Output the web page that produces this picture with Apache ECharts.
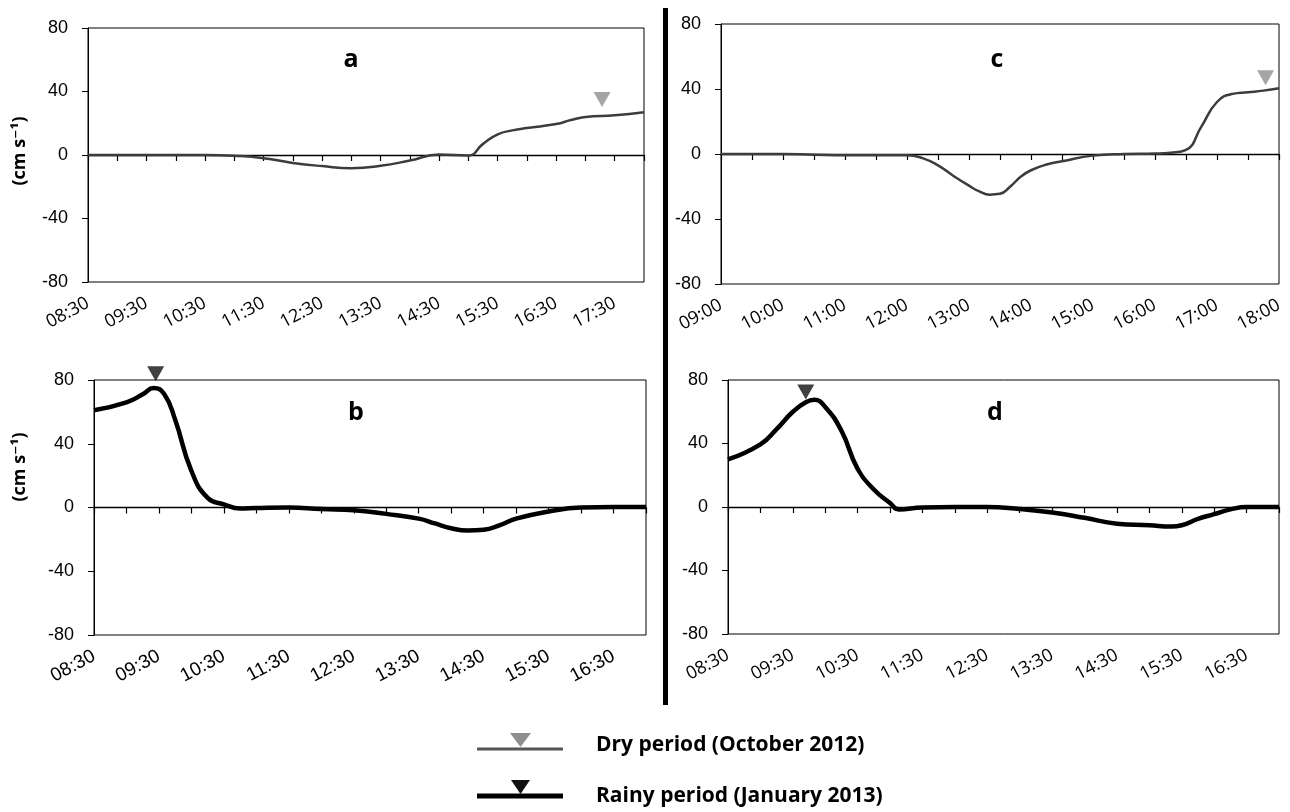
<!DOCTYPE html>
<html>
<head>
<meta charset="utf-8">
<script src="https://cdn.jsdelivr.net/npm/echarts@6/dist/echarts.min.js"></script>
<style>
  html, body { margin: 0; padding: 0; background: #fff; }
  #main { width: 1290px; height: 812px; }
</style>
</head>
<body>
<div id="main"></div>
<script>
// a: dry period, Oct 2012
const aTimes = ['08:30','09:00','09:30','10:00','10:30','11:00','11:30','12:00','12:30','13:00','13:30','14:00','14:30','15:00','15:15','15:30','15:45','16:00','16:30','16:45','17:00','17:30','18:00'];
const aValues = [0, 0, 0, 0, 0, -0.5, -2, -5, -7, -8.3, -6.8, -3.5, 0.3, -0.3, 7, 13, 15.5, 17, 19.5, 22, 24, 25, 27];
const aMarker = ['17:17', 35];

// b: rainy period, Jan 2013
const bTimes = ['08:30','09:00','09:15','09:25','09:35','09:45','10:00','10:15','10:30','10:45','11:00','11:30','12:00','12:30','13:00','13:30','13:45','14:00','14:15','14:30','14:45','15:00','15:30','16:00','16:30','17:00'];
const bValues = [61, 66, 71, 75, 71, 55, 23, 6, 2, -0.6, -0.3, 0, -1, -1.7, -4, -7, -10, -13, -14.5, -14, -11, -7, -2.5, 0, 0.3, 0.3];
const bMarker = ['09:27', 84];

// c: dry period, Oct 2012
const cTimes = ['09:00','09:30','10:00','10:30','11:00','11:30','12:00','12:15','12:30','12:45','13:00','13:10','13:20','13:30','13:40','13:50','14:00','14:15','14:30','15:00','15:30','16:00','16:15','16:30','16:45','17:00','17:15','17:30','17:45','18:00'];
const cValues = [0, 0, 0, -0.4, -0.7, -0.7, -0.7, -2.5, -7, -13.5, -19.5, -23, -25, -24.5, -20, -14, -10, -6.5, -4.5, -1, 0, 0.3, 0.8, 2.5, 17, 32, 37, 38, 39, 40.5];
const cMarker = ['17:47', 47];

// d: rainy period, Jan 2013
const dTimes = ['08:30','09:00','09:15','09:30','09:42','09:50','10:00','10:15','10:30','10:45','11:00','11:08','11:30','12:00','12:30','13:00','13:30','14:00','14:30','15:00','15:20','15:30','15:45','16:00','16:15','16:30','17:00'];
const dValues = [30, 39.5, 49, 60, 66, 67.5, 63, 48, 24, 11, 2.5, -1.5, -0.3, 0, 0, -1.3, -3.4, -6.8, -10.5, -11.5, -12.3, -11.5, -7.5, -4.5, -1.5, 0, 0];
const dMarker = ['09:42', 72.5];

const yTicks = [-80, -40, 0, 40, 80];

function toMin(s) {
  const p = s.split(':');
  return Number(p[0]) * 60 + Number(p[1]);
}
function pad(n) { return (n < 10 ? '0' : '') + n; }
function fmt(v) { return pad(Math.floor(v / 60)) + ':' + pad(v % 60); }

const DRY = { line: '#3c3c3c', width: 2.5, marker: '#8e8e8e' };
const RAINY = { line: '#000', width: 4.5, marker: '#111' };

const panels = [
  { times: aTimes, values: aValues, marker: aMarker, style: DRY, start: '08:30', end: '18:00', lastLabel: false,
    grid: { left: 88, right: 646, top: 28, bottom: 530 }, font: 'Open Sans', fontSize: 18 },
  { times: bTimes, values: bValues, marker: bMarker, style: RAINY, start: '08:30', end: '17:00', lastLabel: false,
    grid: { left: 94, right: 644, top: 380, bottom: 177 }, font: 'Liberation Sans', fontSize: 19 },
  { times: cTimes, values: cValues, marker: cMarker, style: DRY, start: '09:00', end: '18:00', lastLabel: true,
    grid: { left: 721, right: 11, top: 24, bottom: 528 }, font: 'Open Sans', fontSize: 18 },
  { times: dTimes, values: dValues, marker: dMarker, style: RAINY, start: '08:30', end: '17:00', lastLabel: false,
    grid: { left: 728, right: 11, top: 380, bottom: 178 }, font: 'Open Sans', fontSize: 18 }
];

const grid = [], xAxis = [], yAxis = [], series = [];

panels.forEach((p, i) => {
  const min = toMin(p.start), max = toMin(p.end);
  grid.push(Object.assign({ show: true, borderColor: '#000', borderWidth: 1, backgroundColor: 'transparent', containLabel: false }, p.grid));

  // labels along the bottom of the box
  xAxis.push({
    type: 'value', gridIndex: i, min: min, max: max, interval: 30, position: 'bottom',
    axisLine: { show: false, onZero: false },
    axisTick: { show: false },
    splitLine: { show: false },
    axisLabel: {
      rotate: 28, margin: 20, color: '#000', fontFamily: p.font, fontSize: p.fontSize,
      showMinLabel: true, showMaxLabel: true,
      formatter: v => ((v - min) % 60 === 0 && (p.lastLabel || v < max)) ? fmt(v) : ''
    }
  });
  // axis line with ticks sitting on zero
  xAxis.push({
    type: 'value', gridIndex: i, min: min, max: max, interval: 30, position: 'bottom',
    axisLine: { show: true, onZero: true, lineStyle: { color: '#000', width: 1.3 } },
    axisTick: { show: true, length: 6, lineStyle: { color: '#000', width: 1.2 } },
    axisLabel: { show: false },
    splitLine: { show: false }
  });
  yAxis.push({
    type: 'value', gridIndex: i, min: yTicks[0], max: yTicks[yTicks.length - 1], interval: 40,
    axisLine: { show: true, onZero: false, lineStyle: { color: '#000' } },
    axisTick: { show: true, length: 6, lineStyle: { color: '#000' } },
    axisLabel: { margin: 20, color: '#000', fontFamily: 'Liberation Sans', fontSize: 18 },
    splitLine: { show: false }
  });

  series.push({
    type: 'line', xAxisIndex: i * 2, yAxisIndex: i,
    data: p.times.map((t, k) => [toMin(t), p.values[k]]),
    smooth: 0.5, symbol: 'none', z: 3,
    lineStyle: { color: p.style.line, width: p.style.width }
  });
  series.push({
    type: 'scatter', xAxisIndex: i * 2, yAxisIndex: i,
    data: [[toMin(p.marker[0]), p.marker[1]]],
    symbol: 'triangle', symbolRotate: 180, symbolSize: [17, 15], clip: false, z: 4,
    itemStyle: { color: p.style.marker }
  });
});

const boldFont = '"Open Sans", "DejaVu Sans", sans-serif';
function letter(t, x, y) {
  return { type: 'text', x: x, y: y, style: { text: t, font: 'bold 25px ' + boldFont, fill: '#000', align: 'center', verticalAlign: 'middle' } };
}
function yTitle(y) {
  return { type: 'text', x: 20, y: y, rotation: Math.PI / 2,
    style: { text: '(cm s\u207B\u00B9)', font: 'bold 18px ' + boldFont, fill: '#000', align: 'center', verticalAlign: 'middle' } };
}

const graphic = [
  letter('a', 351, 60), letter('b', 356, 413), letter('c', 997, 60), letter('d', 995, 413),
  yTitle(151), yTitle(467),
  { type: 'line', shape: { x1: 665.5, y1: 8, x2: 665.5, y2: 705 }, style: { stroke: '#000', lineWidth: 5 } },
  // legend
  { type: 'line', shape: { x1: 477, y1: 749, x2: 563, y2: 749 }, style: { stroke: '#555', lineWidth: 3 } },
  { type: 'polygon', shape: { points: [[510, 733], [531, 733], [520.5, 747]] }, style: { fill: '#8e8e8e' } },
  { type: 'text', x: 596, y: 745, style: { text: 'Dry period (October 2012)', font: 'bold 21px ' + boldFont, fill: '#000', verticalAlign: 'middle' } },
  { type: 'line', shape: { x1: 477, y1: 796, x2: 563, y2: 796 }, style: { stroke: '#000', lineWidth: 5 } },
  { type: 'polygon', shape: { points: [[511, 780], [530, 780], [520.5, 794]] }, style: { fill: '#111' } },
  { type: 'text', x: 596, y: 796, style: { text: 'Rainy period (January 2013)', font: 'bold 21px ' + boldFont, fill: '#000', verticalAlign: 'middle' } }
];

const chart = echarts.init(document.getElementById('main'));
chart.setOption({
  animation: false,
  backgroundColor: '#fff',
  grid: grid,
  xAxis: xAxis,
  yAxis: yAxis,
  series: series,
  graphic: graphic
});
</script>
</body>
</html>
